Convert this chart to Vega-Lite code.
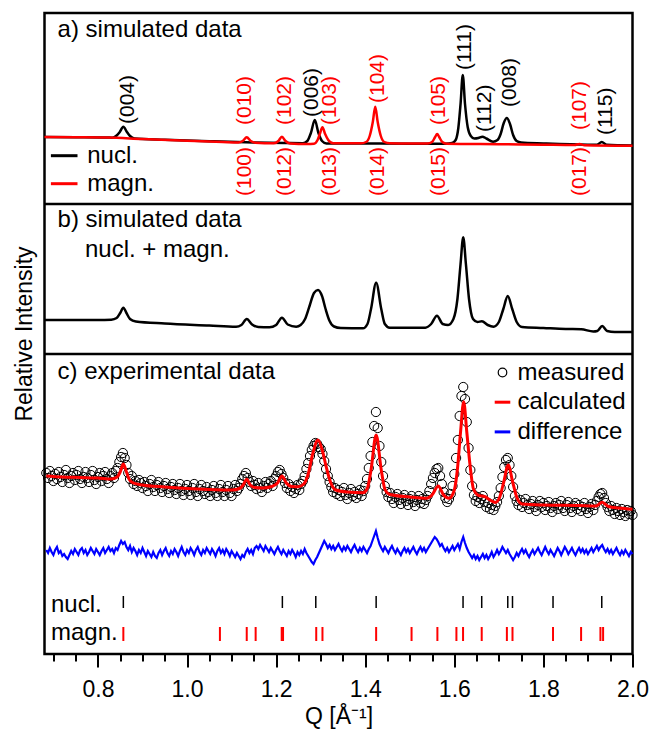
{
  "$schema": "https://vega.github.io/schema/vega-lite/v6.json",
  "width": 588,
  "height": 641,
  "autosize": "none",
  "padding": {"left": 44.5, "top": 13, "right": 18.5, "bottom": 78},
  "config": {
    "font": "Liberation Sans",
    "view": {"stroke": "black", "strokeWidth": 2.5},
    "axis": {"grid": false, "domain": false, "labelColor": "black", "titleColor": "black", "labelFontSize": 23, "titleFontSize": 23, "titleFontWeight": "normal", "tickColor": "black", "tickWidth": 2},
    "axisY": {"ticks": false, "labels": false, "titlePadding": 8}
  },
  "datasets": {
    "nucl": [
      {"Q":0.68,"I":517},{"Q":0.75,"I":516.8},{"Q":0.82,"I":516.5},{"Q":0.832,"I":516.3},{"Q":0.842,"I":518.5},{"Q":0.849,"I":522},{"Q":0.857,"I":527.3},{"Q":0.865,"I":522},{"Q":0.872,"I":518},{"Q":0.882,"I":515.6},{"Q":0.95,"I":514.3},{"Q":1.05,"I":512.8},{"Q":1.15,"I":511.5},{"Q":1.22,"I":511},{"Q":1.26,"I":510.8},{"Q":1.27,"I":513},{"Q":1.278,"I":521},{"Q":1.2868,"I":534},{"Q":1.295,"I":521},{"Q":1.303,"I":513},{"Q":1.313,"I":510.5},{"Q":1.4,"I":510.5},{"Q":1.5,"I":510.3},{"Q":1.58,"I":510.2},{"Q":1.595,"I":511},{"Q":1.603,"I":514},{"Q":1.609,"I":526},{"Q":1.614,"I":550},{"Q":1.619,"I":579},{"Q":1.624,"I":550},{"Q":1.63,"I":527},{"Q":1.637,"I":518},{"Q":1.645,"I":515.5},{"Q":1.654,"I":516},{"Q":1.663,"I":517.3},{"Q":1.672,"I":515.5},{"Q":1.687,"I":512.3},{"Q":1.697,"I":514},{"Q":1.704,"I":520},{"Q":1.711,"I":531},{"Q":1.718,"I":536},{"Q":1.725,"I":530},{"Q":1.732,"I":519},{"Q":1.74,"I":513},{"Q":1.75,"I":511.5},{"Q":1.8,"I":510.5},{"Q":1.9,"I":509.3},{"Q":1.92,"I":509.3},{"Q":1.931,"I":512},{"Q":1.942,"I":509.2},{"Q":2.0,"I":508.5}
    ],
    "magn": [
      {"Q":0.68,"I":517},{"Q":0.75,"I":516.8},{"Q":0.82,"I":516.5},{"Q":0.9,"I":515},{"Q":1.0,"I":513.3},{"Q":1.08,"I":512},{"Q":1.115,"I":511.5},{"Q":1.125,"I":513},{"Q":1.134,"I":516.7},{"Q":1.143,"I":513},{"Q":1.153,"I":511.3},{"Q":1.195,"I":510.8},{"Q":1.205,"I":513},{"Q":1.213,"I":517.3},{"Q":1.221,"I":513},{"Q":1.231,"I":510.5},{"Q":1.27,"I":510},{"Q":1.285,"I":510.3},{"Q":1.293,"I":514},{"Q":1.298,"I":520},{"Q":1.304,"I":526.7},{"Q":1.31,"I":520},{"Q":1.317,"I":514},{"Q":1.328,"I":510.7},{"Q":1.39,"I":510.7},{"Q":1.402,"I":512},{"Q":1.41,"I":518},{"Q":1.417,"I":532},{"Q":1.4225,"I":547.3},{"Q":1.428,"I":532},{"Q":1.435,"I":518},{"Q":1.443,"I":512},{"Q":1.455,"I":510.7},{"Q":1.54,"I":510.5},{"Q":1.55,"I":512},{"Q":1.557,"I":517},{"Q":1.5615,"I":520},{"Q":1.566,"I":517},{"Q":1.573,"I":512},{"Q":1.583,"I":510.3},{"Q":1.7,"I":509.8},{"Q":1.8,"I":509.3},{"Q":1.87,"I":509},{"Q":1.881,"I":510},{"Q":1.892,"I":508.8},{"Q":2.0,"I":508.3}
    ],
    "sum": [
      {"Q":0.68,"I":334},{"Q":0.8,"I":334},{"Q":0.83,"I":334.3},{"Q":0.842,"I":336},{"Q":0.85,"I":341},{"Q":0.857,"I":346.3},{"Q":0.864,"I":341},{"Q":0.872,"I":335},{"Q":0.885,"I":332.5},{"Q":0.95,"I":330.5},{"Q":1.05,"I":328.5},{"Q":1.11,"I":327.3},{"Q":1.122,"I":329},{"Q":1.134,"I":335},{"Q":1.146,"I":329.5},{"Q":1.16,"I":327},{"Q":1.185,"I":326.7},{"Q":1.2,"I":329},{"Q":1.213,"I":336.3},{"Q":1.226,"I":329.5},{"Q":1.245,"I":327.3},{"Q":1.255,"I":329},{"Q":1.265,"I":335},{"Q":1.275,"I":348},{"Q":1.285,"I":361},{"Q":1.294,"I":364},{"Q":1.303,"I":358},{"Q":1.311,"I":345},{"Q":1.32,"I":333},{"Q":1.33,"I":327.5},{"Q":1.345,"I":326},{"Q":1.395,"I":325.7},{"Q":1.405,"I":330},{"Q":1.413,"I":345},{"Q":1.4245,"I":371.3},{"Q":1.436,"I":345},{"Q":1.444,"I":330},{"Q":1.455,"I":326.3},{"Q":1.535,"I":326.3},{"Q":1.548,"I":330},{"Q":1.561,"I":338.3},{"Q":1.574,"I":330},{"Q":1.586,"I":329},{"Q":1.598,"I":335},{"Q":1.607,"I":355},{"Q":1.614,"I":390},{"Q":1.62,"I":416.7},{"Q":1.626,"I":390},{"Q":1.633,"I":355},{"Q":1.642,"I":335},{"Q":1.652,"I":332},{"Q":1.662,"I":332.7},{"Q":1.675,"I":329},{"Q":1.688,"I":327.3},{"Q":1.7,"I":332},{"Q":1.71,"I":345},{"Q":1.72,"I":358},{"Q":1.73,"I":345},{"Q":1.74,"I":332},{"Q":1.752,"I":327},{"Q":1.8,"I":326},{"Q":1.85,"I":325},{"Q":1.885,"I":324.7},{"Q":1.912,"I":322.5},{"Q":1.921,"I":323},{"Q":1.932,"I":328},{"Q":1.943,"I":323},{"Q":1.96,"I":322},{"Q":2.0,"I":322}
    ],
    "calc": [
      {"Q":0.684,"I":178},{"Q":0.72,"I":177},{"Q":0.76,"I":176.5},{"Q":0.8,"I":176},{"Q":0.83,"I":175},{"Q":0.843,"I":177},{"Q":0.85,"I":182},{"Q":0.857,"I":190},{"Q":0.864,"I":182},{"Q":0.871,"I":174},{"Q":0.88,"I":171},{"Q":0.9,"I":169},{"Q":0.95,"I":167},{"Q":1.0,"I":165.5},{"Q":1.05,"I":164.5},{"Q":1.1,"I":164},{"Q":1.118,"I":165.5},{"Q":1.126,"I":169},{"Q":1.134,"I":174.7},{"Q":1.142,"I":169},{"Q":1.152,"I":166.5},{"Q":1.17,"I":166},{"Q":1.19,"I":167.5},{"Q":1.203,"I":171},{"Q":1.213,"I":178},{"Q":1.223,"I":171},{"Q":1.235,"I":167.5},{"Q":1.25,"I":167.3},{"Q":1.262,"I":170},{"Q":1.272,"I":180},{"Q":1.282,"I":200},{"Q":1.294,"I":214},{"Q":1.304,"I":203},{"Q":1.312,"I":188},{"Q":1.322,"I":172},{"Q":1.334,"I":164},{"Q":1.36,"I":162},{"Q":1.395,"I":161.3},{"Q":1.405,"I":166},{"Q":1.413,"I":184},{"Q":1.4245,"I":219},{"Q":1.436,"I":184},{"Q":1.444,"I":165},{"Q":1.455,"I":159.5},{"Q":1.5,"I":157},{"Q":1.538,"I":155.7},{"Q":1.55,"I":159},{"Q":1.564,"I":168},{"Q":1.576,"I":159},{"Q":1.588,"I":155.7},{"Q":1.6,"I":164},{"Q":1.607,"I":185},{"Q":1.614,"I":222},{"Q":1.621,"I":252.3},{"Q":1.628,"I":222},{"Q":1.635,"I":190},{"Q":1.643,"I":165},{"Q":1.655,"I":158.5},{"Q":1.668,"I":157.5},{"Q":1.68,"I":154},{"Q":1.692,"I":151.5},{"Q":1.702,"I":157},{"Q":1.711,"I":172},{"Q":1.721,"I":189},{"Q":1.731,"I":172},{"Q":1.74,"I":157},{"Q":1.752,"I":150},{"Q":1.8,"I":149},{"Q":1.88,"I":148.5},{"Q":1.918,"I":148},{"Q":1.932,"I":151.7},{"Q":1.946,"I":147.5},{"Q":1.97,"I":146},{"Q":2.0,"I":144.7}
    ],
    "meas": [
      {"Q":0.684,"I":181},{"Q":0.688,"I":176},{"Q":0.692,"I":183},{"Q":0.696,"I":178},{"Q":0.7,"I":173},{"Q":0.704,"I":180},{"Q":0.708,"I":175},{"Q":0.712,"I":182},{"Q":0.716,"I":177},{"Q":0.72,"I":172},{"Q":0.724,"I":179},{"Q":0.728,"I":184},{"Q":0.732,"I":176},{"Q":0.736,"I":171},{"Q":0.74,"I":178},{"Q":0.744,"I":181},{"Q":0.748,"I":174},{"Q":0.752,"I":179},{"Q":0.756,"I":183},{"Q":0.76,"I":175},{"Q":0.764,"I":171},{"Q":0.768,"I":177},{"Q":0.772,"I":182},{"Q":0.776,"I":176},{"Q":0.78,"I":172},{"Q":0.784,"I":179},{"Q":0.788,"I":183},{"Q":0.792,"I":174},{"Q":0.796,"I":170},{"Q":0.8,"I":177},{"Q":0.804,"I":181},{"Q":0.808,"I":173},{"Q":0.812,"I":178},{"Q":0.816,"I":182},{"Q":0.82,"I":175},{"Q":0.824,"I":171},{"Q":0.828,"I":178},{"Q":0.832,"I":181},{"Q":0.836,"I":176},{"Q":0.84,"I":183},{"Q":0.844,"I":186},{"Q":0.848,"I":192},{"Q":0.852,"I":197},{"Q":0.856,"I":201},{"Q":0.86,"I":196},{"Q":0.864,"I":189},{"Q":0.868,"I":181},{"Q":0.872,"I":175},{"Q":0.876,"I":178},{"Q":0.88,"I":170},{"Q":0.884,"I":173},{"Q":0.888,"I":168},{"Q":0.892,"I":174},{"Q":0.896,"I":171},{"Q":0.9,"I":166},{"Q":0.904,"I":172},{"Q":0.908,"I":168},{"Q":0.912,"I":163},{"Q":0.916,"I":170},{"Q":0.92,"I":174},{"Q":0.924,"I":167},{"Q":0.928,"I":163},{"Q":0.932,"I":169},{"Q":0.936,"I":172},{"Q":0.94,"I":166},{"Q":0.944,"I":162},{"Q":0.948,"I":168},{"Q":0.952,"I":171},{"Q":0.956,"I":165},{"Q":0.96,"I":161},{"Q":0.964,"I":167},{"Q":0.968,"I":170},{"Q":0.972,"I":164},{"Q":0.976,"I":160},{"Q":0.98,"I":166},{"Q":0.984,"I":170},{"Q":0.988,"I":163},{"Q":0.992,"I":159},{"Q":0.996,"I":165},{"Q":1.0,"I":169},{"Q":1.004,"I":163},{"Q":1.008,"I":159},{"Q":1.012,"I":166},{"Q":1.016,"I":170},{"Q":1.02,"I":162},{"Q":1.024,"I":158},{"Q":1.028,"I":165},{"Q":1.032,"I":169},{"Q":1.036,"I":163},{"Q":1.04,"I":160},{"Q":1.044,"I":167},{"Q":1.048,"I":162},{"Q":1.052,"I":158},{"Q":1.056,"I":164},{"Q":1.06,"I":168},{"Q":1.064,"I":161},{"Q":1.068,"I":158},{"Q":1.072,"I":165},{"Q":1.076,"I":169},{"Q":1.08,"I":162},{"Q":1.084,"I":158},{"Q":1.088,"I":164},{"Q":1.092,"I":168},{"Q":1.096,"I":161},{"Q":1.1,"I":158},{"Q":1.104,"I":165},{"Q":1.108,"I":169},{"Q":1.112,"I":163},{"Q":1.116,"I":166},{"Q":1.12,"I":170},{"Q":1.124,"I":175},{"Q":1.128,"I":178},{"Q":1.132,"I":181},{"Q":1.136,"I":176},{"Q":1.14,"I":172},{"Q":1.144,"I":168},{"Q":1.148,"I":173},{"Q":1.152,"I":169},{"Q":1.156,"I":165},{"Q":1.16,"I":171},{"Q":1.164,"I":166},{"Q":1.168,"I":162},{"Q":1.172,"I":168},{"Q":1.176,"I":172},{"Q":1.18,"I":166},{"Q":1.184,"I":170},{"Q":1.188,"I":173},{"Q":1.192,"I":168},{"Q":1.196,"I":175},{"Q":1.2,"I":178},{"Q":1.204,"I":182},{"Q":1.208,"I":184},{"Q":1.212,"I":180},{"Q":1.216,"I":176},{"Q":1.22,"I":171},{"Q":1.224,"I":166},{"Q":1.228,"I":170},{"Q":1.232,"I":163},{"Q":1.236,"I":167},{"Q":1.24,"I":161},{"Q":1.244,"I":165},{"Q":1.248,"I":169},{"Q":1.252,"I":164},{"Q":1.256,"I":170},{"Q":1.26,"I":173},{"Q":1.264,"I":178},{"Q":1.268,"I":185},{"Q":1.272,"I":191},{"Q":1.276,"I":198},{"Q":1.28,"I":204},{"Q":1.284,"I":208},{"Q":1.288,"I":211},{"Q":1.292,"I":210},{"Q":1.296,"I":207},{"Q":1.3,"I":205},{"Q":1.304,"I":200},{"Q":1.308,"I":193},{"Q":1.312,"I":185},{"Q":1.316,"I":178},{"Q":1.32,"I":172},{"Q":1.324,"I":167},{"Q":1.328,"I":162},{"Q":1.332,"I":166},{"Q":1.336,"I":160},{"Q":1.34,"I":164},{"Q":1.344,"I":158},{"Q":1.348,"I":162},{"Q":1.352,"I":166},{"Q":1.356,"I":159},{"Q":1.36,"I":155},{"Q":1.364,"I":161},{"Q":1.368,"I":165},{"Q":1.372,"I":158},{"Q":1.376,"I":162},{"Q":1.38,"I":156},{"Q":1.384,"I":160},{"Q":1.388,"I":164},{"Q":1.392,"I":158},{"Q":1.396,"I":163},{"Q":1.4,"I":168},{"Q":1.404,"I":175},{"Q":1.408,"I":186},{"Q":1.412,"I":198},{"Q":1.416,"I":212},{"Q":1.42,"I":228},{"Q":1.424,"I":242},{"Q":1.428,"I":226},{"Q":1.432,"I":208},{"Q":1.436,"I":192},{"Q":1.44,"I":178},{"Q":1.444,"I":168},{"Q":1.448,"I":162},{"Q":1.452,"I":157},{"Q":1.456,"I":161},{"Q":1.46,"I":155},{"Q":1.464,"I":151},{"Q":1.468,"I":157},{"Q":1.472,"I":160},{"Q":1.476,"I":154},{"Q":1.48,"I":150},{"Q":1.484,"I":156},{"Q":1.488,"I":159},{"Q":1.492,"I":153},{"Q":1.496,"I":149},{"Q":1.5,"I":155},{"Q":1.504,"I":158},{"Q":1.508,"I":152},{"Q":1.512,"I":148},{"Q":1.516,"I":154},{"Q":1.52,"I":158},{"Q":1.524,"I":151},{"Q":1.528,"I":155},{"Q":1.532,"I":150},{"Q":1.536,"I":154},{"Q":1.54,"I":158},{"Q":1.544,"I":163},{"Q":1.548,"I":170},{"Q":1.552,"I":176},{"Q":1.556,"I":181},{"Q":1.56,"I":185},{"Q":1.564,"I":186},{"Q":1.568,"I":178},{"Q":1.572,"I":170},{"Q":1.576,"I":162},{"Q":1.58,"I":156},{"Q":1.584,"I":152},{"Q":1.588,"I":155},{"Q":1.592,"I":160},{"Q":1.596,"I":168},{"Q":1.6,"I":180},{"Q":1.604,"I":196},{"Q":1.608,"I":214},{"Q":1.612,"I":238},{"Q":1.616,"I":258},{"Q":1.62,"I":267},{"Q":1.624,"I":255},{"Q":1.628,"I":232},{"Q":1.632,"I":206},{"Q":1.636,"I":184},{"Q":1.64,"I":168},{"Q":1.644,"I":159},{"Q":1.648,"I":153},{"Q":1.652,"I":157},{"Q":1.656,"I":151},{"Q":1.66,"I":155},{"Q":1.664,"I":158},{"Q":1.668,"I":152},{"Q":1.672,"I":147},{"Q":1.676,"I":151},{"Q":1.68,"I":145},{"Q":1.684,"I":149},{"Q":1.688,"I":144},{"Q":1.692,"I":148},{"Q":1.696,"I":152},{"Q":1.7,"I":158},{"Q":1.704,"I":166},{"Q":1.708,"I":177},{"Q":1.712,"I":187},{"Q":1.716,"I":194},{"Q":1.72,"I":196},{"Q":1.724,"I":189},{"Q":1.728,"I":178},{"Q":1.732,"I":167},{"Q":1.736,"I":158},{"Q":1.74,"I":153},{"Q":1.744,"I":149},{"Q":1.748,"I":154},{"Q":1.752,"I":147},{"Q":1.756,"I":151},{"Q":1.76,"I":155},{"Q":1.764,"I":149},{"Q":1.768,"I":145},{"Q":1.772,"I":150},{"Q":1.776,"I":153},{"Q":1.78,"I":147},{"Q":1.784,"I":143},{"Q":1.788,"I":149},{"Q":1.792,"I":153},{"Q":1.796,"I":147},{"Q":1.8,"I":151},{"Q":1.804,"I":144},{"Q":1.808,"I":148},{"Q":1.812,"I":152},{"Q":1.816,"I":146},{"Q":1.82,"I":142},{"Q":1.824,"I":148},{"Q":1.828,"I":151},{"Q":1.832,"I":145},{"Q":1.836,"I":149},{"Q":1.84,"I":153},{"Q":1.844,"I":146},{"Q":1.848,"I":143},{"Q":1.852,"I":149},{"Q":1.856,"I":152},{"Q":1.86,"I":146},{"Q":1.864,"I":142},{"Q":1.868,"I":148},{"Q":1.872,"I":151},{"Q":1.876,"I":145},{"Q":1.88,"I":149},{"Q":1.884,"I":143},{"Q":1.888,"I":147},{"Q":1.892,"I":151},{"Q":1.896,"I":145},{"Q":1.9,"I":141},{"Q":1.904,"I":147},{"Q":1.908,"I":150},{"Q":1.912,"I":144},{"Q":1.916,"I":149},{"Q":1.92,"I":153},{"Q":1.924,"I":157},{"Q":1.928,"I":160},{"Q":1.932,"I":161},{"Q":1.936,"I":156},{"Q":1.94,"I":151},{"Q":1.944,"I":147},{"Q":1.948,"I":143},{"Q":1.952,"I":148},{"Q":1.956,"I":144},{"Q":1.96,"I":140},{"Q":1.964,"I":146},{"Q":1.968,"I":143},{"Q":1.972,"I":139},{"Q":1.976,"I":145},{"Q":1.98,"I":142},{"Q":1.984,"I":138},{"Q":1.988,"I":144},{"Q":1.992,"I":140},{"Q":1.996,"I":143},{"Q":2.0,"I":139}
    ],
    "diff": [
      {"Q":0.684,"I":104},{"Q":0.688,"I":101},{"Q":0.692,"I":106},{"Q":0.696,"I":102},{"Q":0.7,"I":99},{"Q":0.704,"I":104},{"Q":0.708,"I":107},{"Q":0.712,"I":101},{"Q":0.716,"I":103},{"Q":0.72,"I":98},{"Q":0.724,"I":100},{"Q":0.728,"I":97},{"Q":0.732,"I":95},{"Q":0.736,"I":99},{"Q":0.74,"I":103},{"Q":0.744,"I":100},{"Q":0.748,"I":105},{"Q":0.752,"I":102},{"Q":0.756,"I":99},{"Q":0.76,"I":104},{"Q":0.764,"I":106},{"Q":0.768,"I":101},{"Q":0.772,"I":104},{"Q":0.776,"I":99},{"Q":0.78,"I":102},{"Q":0.784,"I":106},{"Q":0.788,"I":103},{"Q":0.792,"I":100},{"Q":0.796,"I":105},{"Q":0.8,"I":102},{"Q":0.804,"I":99},{"Q":0.808,"I":103},{"Q":0.812,"I":106},{"Q":0.816,"I":101},{"Q":0.82,"I":104},{"Q":0.824,"I":107},{"Q":0.828,"I":103},{"Q":0.832,"I":105},{"Q":0.836,"I":101},{"Q":0.84,"I":106},{"Q":0.844,"I":104},{"Q":0.848,"I":109},{"Q":0.852,"I":113},{"Q":0.856,"I":110},{"Q":0.86,"I":112},{"Q":0.864,"I":107},{"Q":0.868,"I":104},{"Q":0.872,"I":108},{"Q":0.876,"I":102},{"Q":0.88,"I":106},{"Q":0.884,"I":103},{"Q":0.888,"I":99},{"Q":0.892,"I":104},{"Q":0.896,"I":101},{"Q":0.9,"I":106},{"Q":0.904,"I":102},{"Q":0.908,"I":98},{"Q":0.912,"I":103},{"Q":0.916,"I":100},{"Q":0.92,"I":97},{"Q":0.924,"I":102},{"Q":0.928,"I":98},{"Q":0.932,"I":96},{"Q":0.936,"I":101},{"Q":0.94,"I":104},{"Q":0.944,"I":99},{"Q":0.948,"I":103},{"Q":0.952,"I":106},{"Q":0.956,"I":101},{"Q":0.96,"I":98},{"Q":0.964,"I":103},{"Q":0.968,"I":100},{"Q":0.972,"I":105},{"Q":0.976,"I":102},{"Q":0.98,"I":98},{"Q":0.984,"I":103},{"Q":0.988,"I":107},{"Q":0.992,"I":102},{"Q":0.996,"I":99},{"Q":1.0,"I":104},{"Q":1.004,"I":101},{"Q":1.008,"I":106},{"Q":1.012,"I":103},{"Q":1.016,"I":99},{"Q":1.02,"I":104},{"Q":1.024,"I":107},{"Q":1.028,"I":102},{"Q":1.032,"I":99},{"Q":1.036,"I":104},{"Q":1.04,"I":101},{"Q":1.044,"I":106},{"Q":1.048,"I":103},{"Q":1.052,"I":100},{"Q":1.056,"I":105},{"Q":1.06,"I":102},{"Q":1.064,"I":98},{"Q":1.068,"I":103},{"Q":1.072,"I":106},{"Q":1.076,"I":101},{"Q":1.08,"I":104},{"Q":1.084,"I":100},{"Q":1.088,"I":105},{"Q":1.092,"I":102},{"Q":1.096,"I":98},{"Q":1.1,"I":103},{"Q":1.104,"I":100},{"Q":1.108,"I":97},{"Q":1.112,"I":101},{"Q":1.116,"I":98},{"Q":1.12,"I":95},{"Q":1.124,"I":99},{"Q":1.128,"I":97},{"Q":1.132,"I":102},{"Q":1.136,"I":105},{"Q":1.14,"I":101},{"Q":1.144,"I":104},{"Q":1.148,"I":100},{"Q":1.152,"I":106},{"Q":1.156,"I":108},{"Q":1.16,"I":105},{"Q":1.164,"I":109},{"Q":1.168,"I":106},{"Q":1.172,"I":103},{"Q":1.176,"I":108},{"Q":1.18,"I":105},{"Q":1.184,"I":102},{"Q":1.188,"I":106},{"Q":1.192,"I":103},{"Q":1.196,"I":100},{"Q":1.2,"I":104},{"Q":1.204,"I":107},{"Q":1.208,"I":103},{"Q":1.212,"I":100},{"Q":1.216,"I":104},{"Q":1.22,"I":101},{"Q":1.224,"I":98},{"Q":1.228,"I":103},{"Q":1.232,"I":100},{"Q":1.236,"I":104},{"Q":1.24,"I":101},{"Q":1.244,"I":97},{"Q":1.248,"I":102},{"Q":1.252,"I":99},{"Q":1.256,"I":103},{"Q":1.26,"I":100},{"Q":1.264,"I":105},{"Q":1.268,"I":101},{"Q":1.272,"I":98},{"Q":1.276,"I":95},{"Q":1.28,"I":92},{"Q":1.284,"I":90},{"Q":1.288,"I":94},{"Q":1.292,"I":97},{"Q":1.296,"I":101},{"Q":1.3,"I":105},{"Q":1.304,"I":109},{"Q":1.308,"I":113},{"Q":1.312,"I":110},{"Q":1.316,"I":106},{"Q":1.32,"I":109},{"Q":1.324,"I":105},{"Q":1.328,"I":108},{"Q":1.332,"I":104},{"Q":1.336,"I":107},{"Q":1.34,"I":110},{"Q":1.344,"I":106},{"Q":1.348,"I":103},{"Q":1.352,"I":107},{"Q":1.356,"I":104},{"Q":1.36,"I":108},{"Q":1.364,"I":105},{"Q":1.368,"I":102},{"Q":1.372,"I":106},{"Q":1.376,"I":109},{"Q":1.38,"I":105},{"Q":1.384,"I":102},{"Q":1.388,"I":106},{"Q":1.392,"I":103},{"Q":1.396,"I":107},{"Q":1.4,"I":104},{"Q":1.404,"I":101},{"Q":1.408,"I":105},{"Q":1.412,"I":108},{"Q":1.416,"I":113},{"Q":1.42,"I":118},{"Q":1.424,"I":123},{"Q":1.428,"I":116},{"Q":1.432,"I":110},{"Q":1.436,"I":106},{"Q":1.44,"I":103},{"Q":1.444,"I":107},{"Q":1.448,"I":104},{"Q":1.452,"I":101},{"Q":1.456,"I":105},{"Q":1.46,"I":108},{"Q":1.464,"I":104},{"Q":1.468,"I":101},{"Q":1.472,"I":105},{"Q":1.476,"I":102},{"Q":1.48,"I":99},{"Q":1.484,"I":103},{"Q":1.488,"I":106},{"Q":1.492,"I":102},{"Q":1.496,"I":105},{"Q":1.5,"I":101},{"Q":1.504,"I":104},{"Q":1.508,"I":107},{"Q":1.512,"I":103},{"Q":1.516,"I":100},{"Q":1.52,"I":104},{"Q":1.524,"I":107},{"Q":1.528,"I":103},{"Q":1.532,"I":106},{"Q":1.536,"I":102},{"Q":1.54,"I":105},{"Q":1.544,"I":108},{"Q":1.548,"I":111},{"Q":1.552,"I":114},{"Q":1.556,"I":117},{"Q":1.56,"I":115},{"Q":1.564,"I":112},{"Q":1.568,"I":108},{"Q":1.572,"I":110},{"Q":1.576,"I":106},{"Q":1.58,"I":103},{"Q":1.584,"I":106},{"Q":1.588,"I":102},{"Q":1.592,"I":105},{"Q":1.596,"I":108},{"Q":1.6,"I":104},{"Q":1.604,"I":107},{"Q":1.608,"I":110},{"Q":1.612,"I":105},{"Q":1.616,"I":112},{"Q":1.62,"I":117},{"Q":1.624,"I":111},{"Q":1.628,"I":106},{"Q":1.632,"I":102},{"Q":1.636,"I":99},{"Q":1.64,"I":96},{"Q":1.644,"I":99},{"Q":1.648,"I":95},{"Q":1.652,"I":98},{"Q":1.656,"I":94},{"Q":1.66,"I":97},{"Q":1.664,"I":100},{"Q":1.668,"I":96},{"Q":1.672,"I":99},{"Q":1.676,"I":95},{"Q":1.68,"I":98},{"Q":1.684,"I":102},{"Q":1.688,"I":97},{"Q":1.692,"I":100},{"Q":1.696,"I":104},{"Q":1.7,"I":100},{"Q":1.704,"I":103},{"Q":1.708,"I":107},{"Q":1.712,"I":104},{"Q":1.716,"I":101},{"Q":1.72,"I":104},{"Q":1.724,"I":100},{"Q":1.728,"I":97},{"Q":1.732,"I":94},{"Q":1.736,"I":97},{"Q":1.74,"I":101},{"Q":1.744,"I":98},{"Q":1.748,"I":102},{"Q":1.752,"I":105},{"Q":1.756,"I":101},{"Q":1.76,"I":104},{"Q":1.764,"I":100},{"Q":1.768,"I":97},{"Q":1.772,"I":101},{"Q":1.776,"I":104},{"Q":1.78,"I":100},{"Q":1.784,"I":103},{"Q":1.788,"I":106},{"Q":1.792,"I":102},{"Q":1.796,"I":99},{"Q":1.8,"I":103},{"Q":1.804,"I":107},{"Q":1.808,"I":103},{"Q":1.812,"I":100},{"Q":1.816,"I":104},{"Q":1.82,"I":101},{"Q":1.824,"I":98},{"Q":1.828,"I":102},{"Q":1.832,"I":106},{"Q":1.836,"I":103},{"Q":1.84,"I":99},{"Q":1.844,"I":103},{"Q":1.848,"I":107},{"Q":1.852,"I":104},{"Q":1.856,"I":100},{"Q":1.86,"I":103},{"Q":1.864,"I":106},{"Q":1.868,"I":102},{"Q":1.872,"I":99},{"Q":1.876,"I":103},{"Q":1.88,"I":106},{"Q":1.884,"I":102},{"Q":1.888,"I":105},{"Q":1.892,"I":101},{"Q":1.896,"I":104},{"Q":1.9,"I":100},{"Q":1.904,"I":103},{"Q":1.908,"I":106},{"Q":1.912,"I":102},{"Q":1.916,"I":105},{"Q":1.92,"I":108},{"Q":1.924,"I":104},{"Q":1.928,"I":107},{"Q":1.932,"I":109},{"Q":1.936,"I":105},{"Q":1.94,"I":102},{"Q":1.944,"I":105},{"Q":1.948,"I":101},{"Q":1.952,"I":104},{"Q":1.956,"I":100},{"Q":1.96,"I":103},{"Q":1.964,"I":106},{"Q":1.968,"I":102},{"Q":1.972,"I":99},{"Q":1.976,"I":103},{"Q":1.98,"I":100},{"Q":1.984,"I":104},{"Q":1.988,"I":101},{"Q":1.992,"I":98},{"Q":1.996,"I":102},{"Q":2.0,"I":100}
    ],
    "labels": [
      {"hkl":"(004)","Q":0.868,"I":530,"phase":"nucl","pos":"above"},
      {"hkl":"(006)","Q":1.2815,"I":537,"phase":"nucl","pos":"above"},
      {"hkl":"(111)","Q":1.6235,"I":584,"phase":"nucl","pos":"above"},
      {"hkl":"(112)","Q":1.668,"I":522,"phase":"nucl","pos":"above"},
      {"hkl":"(008)","Q":1.724,"I":547,"phase":"nucl","pos":"above"},
      {"hkl":"(115)","Q":1.9405,"I":519,"phase":"nucl","pos":"above"},
      {"hkl":"(010)","Q":1.1305,"I":529,"phase":"magn","pos":"above"},
      {"hkl":"(102)","Q":1.2205,"I":529,"phase":"magn","pos":"above"},
      {"hkl":"(103)","Q":1.3205,"I":529,"phase":"magn","pos":"above"},
      {"hkl":"(104)","Q":1.428,"I":551,"phase":"magn","pos":"above"},
      {"hkl":"(105)","Q":1.5645,"I":529,"phase":"magn","pos":"above"},
      {"hkl":"(107)","Q":1.8815,"I":524,"phase":"magn","pos":"above"},
      {"hkl":"(100)","Q":1.1305,"I":507,"phase":"magn","pos":"below"},
      {"hkl":"(012)","Q":1.2205,"I":507,"phase":"magn","pos":"below"},
      {"hkl":"(013)","Q":1.3205,"I":507,"phase":"magn","pos":"below"},
      {"hkl":"(014)","Q":1.428,"I":507,"phase":"magn","pos":"below"},
      {"hkl":"(015)","Q":1.5645,"I":507,"phase":"magn","pos":"below"},
      {"hkl":"(017)","Q":1.8815,"I":507,"phase":"magn","pos":"below"}
    ],
    "refl": [
      {"Q":0.857,"phase":"nucl"},{"Q":1.214,"phase":"nucl"},{"Q":1.289,"phase":"nucl"},{"Q":1.4245,"phase":"nucl"},{"Q":1.6196,"phase":"nucl"},{"Q":1.6615,"phase":"nucl"},{"Q":1.72,"phase":"nucl"},{"Q":1.7306,"phase":"nucl"},{"Q":1.8216,"phase":"nucl"},{"Q":1.931,"phase":"nucl"},
      {"Q":0.857,"phase":"magn"},{"Q":1.0738,"phase":"magn"},{"Q":1.134,"phase":"magn"},{"Q":1.154,"phase":"magn"},{"Q":1.2125,"phase":"magn"},{"Q":1.2155,"phase":"magn"},{"Q":1.29,"phase":"magn"},{"Q":1.304,"phase":"magn"},{"Q":1.4245,"phase":"magn"},{"Q":1.504,"phase":"magn"},{"Q":1.562,"phase":"magn"},{"Q":1.6047,"phase":"magn"},{"Q":1.6196,"phase":"magn"},{"Q":1.6615,"phase":"magn"},{"Q":1.718,"phase":"magn"},{"Q":1.7306,"phase":"magn"},{"Q":1.8216,"phase":"magn"},{"Q":1.8846,"phase":"magn"},{"Q":1.928,"phase":"magn"},{"Q":1.934,"phase":"magn"}
    ]
  },
  "layer": [
    {
      "layer": [
        {
          "data": {"name": "nucl"},
          "mark": {"type": "line", "strokeWidth": 2.5, "interpolate": "monotone"},
          "encoding": {
            "x": {"field": "Q", "type": "quantitative", "scale": {"domain": [0.68, 2.0], "nice": false, "zero": false}, "axis": null},
            "y": {"field": "I", "type": "quantitative", "scale": {"domain": [0, 641], "nice": false, "zero": false}, "axis": null},
            "color": {"datum": "nucl.", "type": "nominal", "scale": {"domain": ["nucl.", "magn."], "range": ["#000000", "#ff0000"]},
              "legend": {"orient": "none", "legendX": 4.7, "legendY": 127.7, "title": null, "padding": 0, "symbolType": "stroke", "symbolSize": 708, "symbolStrokeWidth": 3, "labelFontSize": 24, "labelColor": "black", "labelOffset": 8, "rowPadding": 1}}
          }
        },
        {
          "data": {"name": "magn"},
          "mark": {"type": "line", "strokeWidth": 2.5, "interpolate": "monotone"},
          "encoding": {
            "x": {"field": "Q", "type": "quantitative", "scale": {"domain": [0.68, 2.0], "nice": false, "zero": false}, "axis": null},
            "y": {"field": "I", "type": "quantitative", "scale": {"domain": [0, 641], "nice": false, "zero": false}, "axis": null},
            "color": {"datum": "magn.", "type": "nominal", "scale": {"domain": ["nucl.", "magn."], "range": ["#000000", "#ff0000"]}}
          }
        }
      ]
    },
    {
      "data": {"name": "sum"},
      "mark": {"type": "line", "strokeWidth": 2.5, "interpolate": "monotone", "color": "black"},
      "encoding": {
        "x": {"field": "Q", "type": "quantitative", "scale": {"domain": [0.68, 2.0], "nice": false, "zero": false},
          "axis": {"title": "Q [Å⁻¹]", "values": [0.7,0.75,0.8,0.85,0.9,0.95,1.0,1.05,1.1,1.15,1.2,1.25,1.3,1.35,1.4,1.45,1.5,1.55,1.6,1.65,1.7,1.75,1.8,1.85,1.9,1.95,2.0], "format": ".1f",
            "labelExpr": "abs(datum.value*5 - round(datum.value*5)) < 0.001 ? datum.label : ''",
            "tickSize": {"condition": {"test": "abs(datum.value*5 - round(datum.value*5)) < 0.001", "value": 13}, "value": 7},
            "labelPadding": 11, "labelOverlap": false, "labelFlush": false, "labelBound": false, "titlePadding": 4}},
        "y": {"field": "I", "type": "quantitative", "scale": {"domain": [0, 641], "nice": false, "zero": false}, "axis": {"title": "Relative Intensity"}}
      }
    },
    {
      "layer": [
        {
          "data": {"name": "meas"},
          "mark": {"type": "point", "shape": "circle", "filled": false, "size": 85, "strokeWidth": 1, "opacity": 1},
          "encoding": {
            "x": {"field": "Q", "type": "quantitative", "scale": {"domain": [0.68, 2.0], "nice": false, "zero": false}, "axis": null},
            "y": {"field": "I", "type": "quantitative", "scale": {"domain": [0, 641], "nice": false, "zero": false}, "axis": null},
            "color": {"datum": "measured", "type": "nominal", "scale": {"domain": ["measured", "calculated", "difference"], "range": ["#000000", "#ff0000", "#0000ff"]},
              "legend": {"orient": "none", "legendX": 446, "legendY": 347.5, "title": null, "padding": 0,
                "symbolType": {"expr": "datum.value === 'measured' ? 'M-0.55,0A0.55,0.55 0 1,1 0.55,0A0.55,0.55 0 1,1 -0.55,0Z' : 'stroke'"},
                "symbolStrokeWidth": {"expr": "datum.value === 'measured' ? 1.2 : 3"},
                "symbolFillColor": "transparent",
                "symbolSize": 243, "labelFontSize": 24, "labelColor": "black", "labelOffset": 3, "rowPadding": 5.7}}
          }
        },
        {
          "data": {"name": "calc"},
          "mark": {"type": "line", "strokeWidth": 3, "interpolate": "monotone"},
          "encoding": {
            "x": {"field": "Q", "type": "quantitative", "scale": {"domain": [0.68, 2.0], "nice": false, "zero": false}, "axis": null},
            "y": {"field": "I", "type": "quantitative", "scale": {"domain": [0, 641], "nice": false, "zero": false}, "axis": null},
            "color": {"datum": "calculated", "type": "nominal", "scale": {"domain": ["measured", "calculated", "difference"], "range": ["#000000", "#ff0000", "#0000ff"]}}
          }
        },
        {
          "data": {"name": "diff"},
          "mark": {"type": "line", "strokeWidth": 2.2},
          "encoding": {
            "x": {"field": "Q", "type": "quantitative", "scale": {"domain": [0.68, 2.0], "nice": false, "zero": false}, "axis": null},
            "y": {"field": "I", "type": "quantitative", "scale": {"domain": [0, 641], "nice": false, "zero": false}, "axis": null},
            "color": {"datum": "difference", "type": "nominal", "scale": {"domain": ["measured", "calculated", "difference"], "range": ["#000000", "#ff0000", "#0000ff"]}}
          }
        }
      ]
    },
    {
      "data": {"name": "refl"},
      "transform": [{"filter": "datum.phase === 'nucl'"}],
      "mark": {"type": "rule", "color": "black", "strokeWidth": 1.5},
      "encoding": {
        "x": {"field": "Q", "type": "quantitative", "scale": {"domain": [0.68, 2.0], "nice": false, "zero": false}, "axis": null},
        "y": {"datum": 46, "type": "quantitative", "scale": {"domain": [0, 641], "nice": false, "zero": false}, "axis": null},
        "y2": {"datum": 58}
      }
    },
    {
      "data": {"name": "refl"},
      "transform": [{"filter": "datum.phase === 'magn'"}],
      "mark": {"type": "rule", "color": "#ff0000", "strokeWidth": 2},
      "encoding": {
        "x": {"field": "Q", "type": "quantitative", "scale": {"domain": [0.68, 2.0], "nice": false, "zero": false}, "axis": null},
        "y": {"datum": 13, "type": "quantitative", "scale": {"domain": [0, 641], "nice": false, "zero": false}, "axis": null},
        "y2": {"datum": 27}
      }
    },
    {
      "data": {"values": [{"level": 450}, {"level": 300}]},
      "mark": {"type": "rule", "color": "black", "strokeWidth": 2.5},
      "encoding": {
        "y": {"field": "level", "type": "quantitative", "scale": {"domain": [0, 641], "nice": false, "zero": false}, "axis": null}
      }
    },
    {
      "data": {"name": "labels"},
      "transform": [{"filter": "datum.phase === 'nucl'"}],
      "mark": {"type": "text", "angle": 270, "align": "left", "baseline": "middle", "fontSize": 21, "color": "black"},
      "encoding": {
        "x": {"field": "Q", "type": "quantitative", "scale": {"domain": [0.68, 2.0], "nice": false, "zero": false}, "axis": null},
        "y": {"field": "I", "type": "quantitative", "scale": {"domain": [0, 641], "nice": false, "zero": false}, "axis": null},
        "text": {"field": "hkl"}
      }
    },
    {
      "data": {"name": "labels"},
      "transform": [{"filter": "datum.phase === 'magn' && datum.pos === 'above'"}],
      "mark": {"type": "text", "angle": 270, "align": "left", "baseline": "middle", "fontSize": 21, "color": "#ff0000"},
      "encoding": {
        "x": {"field": "Q", "type": "quantitative", "scale": {"domain": [0.68, 2.0], "nice": false, "zero": false}, "axis": null},
        "y": {"field": "I", "type": "quantitative", "scale": {"domain": [0, 641], "nice": false, "zero": false}, "axis": null},
        "text": {"field": "hkl"}
      }
    },
    {
      "data": {"name": "labels"},
      "transform": [{"filter": "datum.pos === 'below'"}],
      "mark": {"type": "text", "angle": 270, "align": "right", "baseline": "middle", "fontSize": 21, "color": "#ff0000"},
      "encoding": {
        "x": {"field": "Q", "type": "quantitative", "scale": {"domain": [0.68, 2.0], "nice": false, "zero": false}, "axis": null},
        "y": {"field": "I", "type": "quantitative", "scale": {"domain": [0, 641], "nice": false, "zero": false}, "axis": null},
        "text": {"field": "hkl"}
      }
    },
    {
      "data": {"values": [
        {"txt": "a) simulated data", "Q": 0.7094, "I": 624},
        {"txt": "b) simulated data", "Q": 0.7094, "I": 434},
        {"txt": "nucl. + magn.", "Q": 0.7708, "I": 404},
        {"txt": "c) experimental data", "Q": 0.7094, "I": 282.3},
        {"txt": "nucl.", "Q": 0.6946, "I": 49.5},
        {"txt": "magn.", "Q": 0.6946, "I": 21}
      ]},
      "mark": {"type": "text", "align": "left", "baseline": "middle", "fontSize": 24, "color": "black"},
      "encoding": {
        "x": {"field": "Q", "type": "quantitative", "scale": {"domain": [0.68, 2.0], "nice": false, "zero": false}, "axis": null},
        "y": {"field": "I", "type": "quantitative", "scale": {"domain": [0, 641], "nice": false, "zero": false}, "axis": null},
        "text": {"field": "txt"}
      }
    }
  ],
  "resolve": {"scale": {"color": "independent"}, "axis": {"x": "independent", "y": "independent"}}
}
